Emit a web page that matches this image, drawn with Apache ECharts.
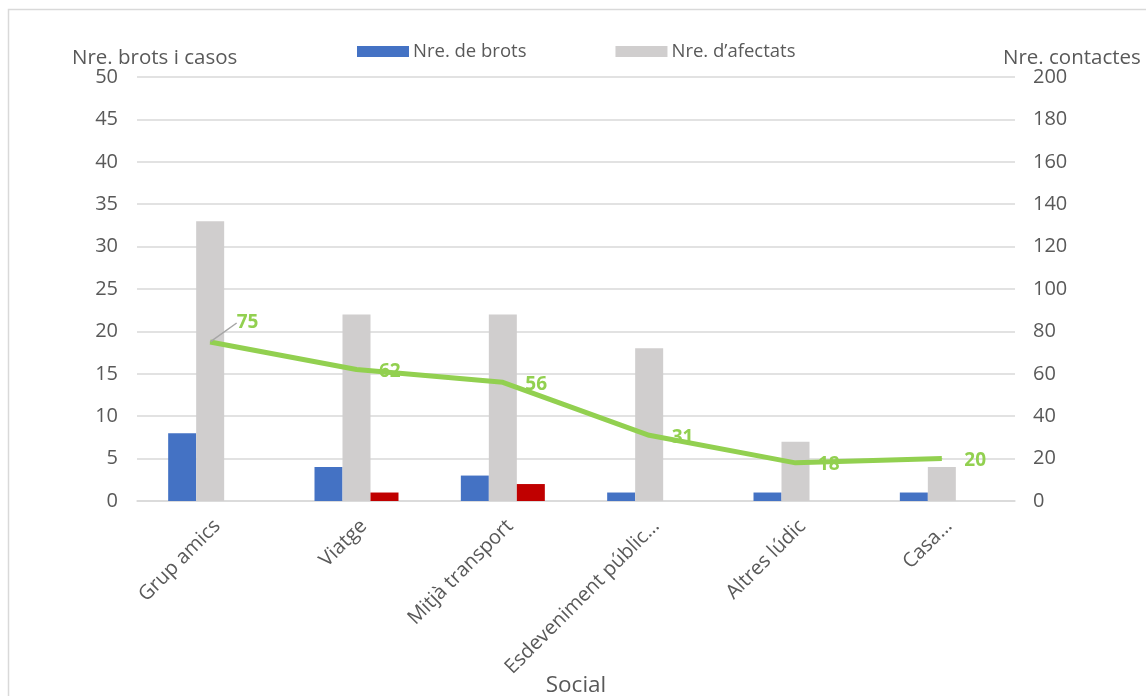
<!DOCTYPE html>
<html><head><meta charset="utf-8">
<script src="https://cdn.jsdelivr.net/npm/echarts@6/dist/echarts.min.js"></script>
<style>html,body{margin:0;padding:0;background:#fff}#c{width:1146px;height:696px}</style>
</head><body><div id="c"></div>
<script>
const categories = ['Grup amics', 'Viatge', 'Mitjà transport', 'Esdeveniment públic…', 'Altres lúdic', 'Casa…'];
const brots = [8, 4, 3, 1, 1, 1];
const afectats = [33, 22, 22, 18, 7, 4];
const tercera = [0, 1, 2, 0, 0, 0];
const contactes = [75, 62, 56, 31, 18, 20];
const leftTicks = [0, 50, 5];
const rightTicks = [0, 200, 20];

const FONT = '"Open Sans", sans-serif';
const TXT = '#595959';
const chart = echarts.init(document.getElementById('c'));
chart.setOption({
  animation: false,
  backgroundColor: '#fff',
  textStyle: { fontFamily: FONT },
  grid: { left: 137, right: 131, top: 77, bottom: 195, containLabel: false, outerBoundsMode: 'none' },
  legend: {
    data: ['Nre. de brots', "Nre. d\u2019afectats"],
    left: 352, top: 37,
    itemWidth: 52, itemHeight: 11, itemGap: 89,
    icon: 'rect',
    textStyle: { fontFamily: FONT, fontSize: 18.5, color: TXT, padding: [0, 0, 0, -1] }
  },
  graphic: [
    { type: 'rect', shape: { x: 8.5, y: 9.5, width: 1300, height: 900 }, style: { fill: 'none', stroke: '#d9d9d9', lineWidth: 1.5 }, silent: true },
    { type: 'text', left: 72, top: 48, style: { text: 'Nre. brots i casos', font: '20.5px "Open Sans", sans-serif', fill: TXT } },
    { type: 'text', left: 1003, top: 48, style: { text: 'Nre. contactes', font: '20.5px "Open Sans", sans-serif', fill: TXT } }
  ],
  xAxis: {
    type: 'category', data: categories,
    name: 'Social', nameLocation: 'middle', nameGap: 173, nameMoveOverlap: false,
    nameTextStyle: { fontFamily: FONT, fontSize: 22.5, color: TXT },
    axisTick: { show: false },
    axisLine: { lineStyle: { color: '#d9d9d9', width: 1.5 } },
    axisLabel: { rotate: 45, interval: 0, fontFamily: FONT, fontSize: 20, color: TXT, margin: 15, verticalAlign: 'top' }
  },
  yAxis: [
    { type: 'value', min: leftTicks[0], max: leftTicks[1], interval: leftTicks[2],
      axisLine: { show: false }, axisTick: { show: false },
      splitLine: { lineStyle: { color: '#d9d9d9', width: 1.5 } },
      axisLabel: { fontFamily: FONT, fontSize: 20, color: TXT, margin: 19 } },
    { type: 'value', min: rightTicks[0], max: rightTicks[1], interval: rightTicks[2],
      axisLine: { show: false }, axisTick: { show: false }, splitLine: { show: false },
      axisLabel: { fontFamily: FONT, fontSize: 20, color: TXT, margin: 18 } }
  ],
  series: [
    { name: 'Nre. de brots', type: 'bar', data: brots, barWidth: 28, barGap: '0%', itemStyle: { color: '#4472C4' } },
    { name: "Nre. d\u2019afectats", type: 'bar', data: afectats, barWidth: 28, barGap: '0%', itemStyle: { color: '#D0CECE' } },
    { name: 'Altres', type: 'bar', data: tercera, barWidth: 28, barGap: '0%', itemStyle: { color: '#C00000' } },
    { name: 'Nre. contactes', type: 'line', yAxisIndex: 1,
      data: contactes.map((v, i) => i === 0 ? { value: v, labelLine: { show: true } } : v),
      symbol: 'circle', symbolSize: 1, showSymbol: true,
      lineStyle: { color: '#92D050', width: 5 }, itemStyle: { color: '#92D050' },
      label: { show: true, position: 'right', distance: 22, fontFamily: FONT, fontSize: 19, fontWeight: 'bold', color: '#92D050' },
      labelLine: { show: false, lineStyle: { color: '#a6a6a6', width: 1.5 } },
      labelLayout: (p) => p.dataIndex === 0 ? { dx: 4, dy: -19 } : { dy: 2 },
      z: 5 }
  ]
});
</script></body></html>
